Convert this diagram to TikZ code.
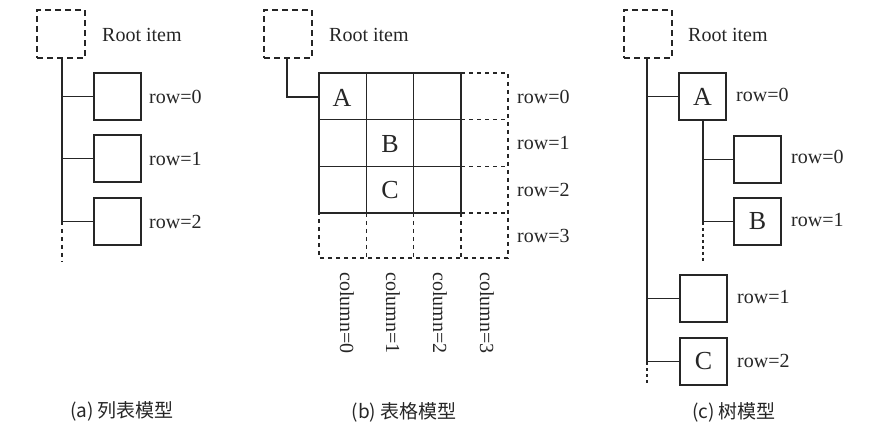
\documentclass[tikz,border=0pt]{standalone}
\usepackage{fontspec}
\setmainfont{Liberation Serif}
\newfontfamily\cjk{Noto Sans CJK SC}
\begin{document}
\begin{tikzpicture}[x=1pt,y=-1pt,
  ink/.style={draw=black!85, line width=1.4pt},
  itembox/.style={ink, minimum width=47pt, minimum height=47pt, inner sep=0pt, outer sep=0pt, anchor=north west, font=\fontsize{26}{26}\selectfont, text=black!85},
  rootbox/.style={draw=black!85, line width=1.4pt, dash pattern=on 6pt off 4pt, minimum width=48pt, minimum height=48pt, inner sep=0pt, outer sep=0pt, anchor=north west},
  lbl/.style={font=\fontsize{20}{20}\selectfont, text=black!85, inner sep=0pt, anchor=west},
  captxt/.style={font=\cjk\fontsize{19}{19}\selectfont, text=black!85, inner sep=0pt},
  dshln/.style={draw=black!85, line width=1.4pt, dash pattern=on 4pt off 4pt},
  dotln/.style={draw=black!85, line width=1.4pt, dash pattern=on 3pt off 3pt}
]
\useasboundingbox (0,0) rectangle (883,446);
\fill[white] (0,0) rectangle (883,446);

% ---------- (a) list model ----------
\node[rootbox] (ra) at (37,10) {};
\node[lbl] (rta) at (102,35) {Root item};
\node[itembox] (a0) at (94,73) {};
\node[itembox] (a1) at (94,135) {};
\node[itembox] (a2) at (94,198) {};
\node[lbl] at ([xshift=8pt]a0.east) {row=0};
\node[lbl] at ([xshift=8pt]a1.east) {row=1};
\node[lbl] at ([xshift=8pt]a2.east) {row=2};
\coordinate (at) at (62,58);
\coordinate (ab) at (62,221);
\coordinate (ae) at (62,262);
\draw[ink] (at) -- (ab);
\draw[dshln] (ab) -- (ae);
\draw[ink] (62,0 |- a0.west) -- (a0.west);
\draw[ink] (62,0 |- a1.west) -- (a1.west);
\draw[ink] (62,0 |- a2.west) -- (a2.west);
\node[captxt] (capa) at (122,411) {(a) 列表模型};

% ---------- (b) table model ----------
\node[rootbox] (rb) at (264,10) {};
\node[lbl] (rtb) at (329,35) {Root item};
\draw[ink] (319,73) rectangle (461,213);
\draw[ink] (366.3,73) -- (366.3,213);
\draw[ink] (413.7,73) -- (413.7,213);
\draw[ink] (319,119.7) -- (461,119.7);
\draw[ink] (319,166.3) -- (461,166.3);
% dashed extensions
\draw[dshln] (461,73) -- (508,73) -- (508,258) -- (319,258) -- (319,213);
\draw[dshln] (461,119.7) -- (508,119.7);
\draw[dshln] (461,166.3) -- (508,166.3);
\draw[dshln] (461,213) -- (508,213);
\draw[dshln] (366.3,213) -- (366.3,258);
\draw[dshln] (413.7,213) -- (413.7,258);
\draw[dshln] (461,213) -- (461,258);
\draw[ink] (287,58) -- (287,97) -- (319,97);
\node[font=\fontsize{26}{26}\selectfont, text=black!85] (A1) at (342,98) {A};
\node[font=\fontsize{26}{26}\selectfont, text=black!85] (B1) at (390,144) {B};
\node[font=\fontsize{26}{26}\selectfont, text=black!85] (C1) at (390,190) {C};
\node[lbl] at (517,97) {row=0};
\node[lbl] at (517,143) {row=1};
\node[lbl] at (517,190) {row=2};
\node[lbl] at (517,236) {row=3};
\node[lbl, rotate=-90] at (347,272) {column=0};
\node[lbl, rotate=-90] at (393,272) {column=1};
\node[lbl, rotate=-90] at (440,272) {column=2};
\node[lbl, rotate=-90] at (487,272) {column=3};
\node[captxt] (capb) at (404,412) {(b) 表格模型};

% ---------- (c) tree model ----------
\node[rootbox] (rc) at (624,10) {};
\node[lbl] (rtc) at (688,35) {Root item};
\node[itembox] (cA) at (679,73) {A};
\node[itembox] (c00) at (734,136) {};
\node[itembox] (cB) at (734,198) {B};
\node[itembox] (c1) at (680,275) {};
\node[itembox] (cC) at (680,338) {C};
\node[lbl] at (736,95) {row=0};
\node[lbl] at (791,157) {row=0};
\node[lbl] at (791,220) {row=1};
\node[lbl] at (737,297) {row=1};
\node[lbl] at (737,361) {row=2};
\draw[ink] (647,58) -- (647,362);
\draw[dotln] (647,362) -- (647,384);
\draw[ink] (647,0 |- cA.west) -- (cA.west);
\draw[ink] (647,0 |- c1.west) -- (c1.west);
\draw[ink] (647,0 |- cC.west) -- (cC.west);
\draw[ink] (703,0 |- cA.south) -- (703,222);
\draw[dotln] (703,222) -- (703,263);
\draw[ink] (703,0 |- c00.west) -- (c00.west);
\draw[ink] (703,0 |- cB.west) -- (cB.west);
\node[captxt] (capc) at (734,412) {(c) 树模型};
\end{tikzpicture}
\end{document}
